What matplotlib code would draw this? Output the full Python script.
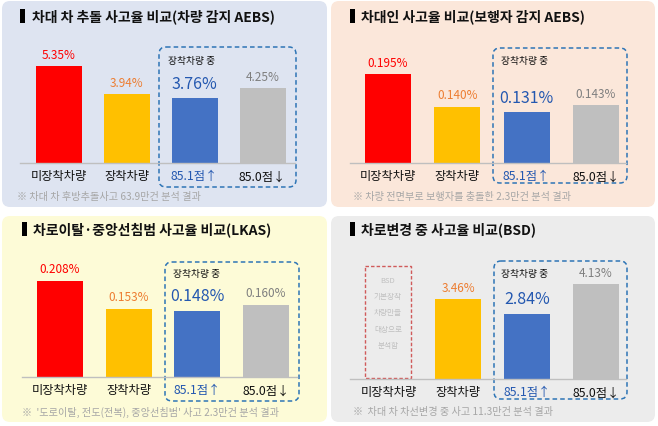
import numpy as np
import matplotlib
matplotlib.use("Agg")
import matplotlib.pyplot as plt
from matplotlib.patches import FancyBboxPatch, Rectangle

plt.rcParams['font.family'] = ['Noto Sans CJK KR', 'DejaVu Sans']

# 데이터
categories = ['미장착차량', '장착차량', '85.1점↑', '85.0점↓']
titles = ['차대 차 추돌 사고율 비교(차량 감지 AEBS)',
          '차대인 사고율 비교(보행자 감지 AEBS)',
          '차로이탈·중앙선침범 사고율 비교(LKAS)',
          '차로변경 중 사고율 비교(BSD)']
notes = ['※ 차대 차 후방추돌사고 63.9만건 분석 결과',
         '※ 차량 전면부로 보행자를 충돌한 2.3만건 분석 결과',
         '※  \'도로이탈, 전도(전복), 중앙선침범\' 사고 2.3만건 분석 결과',
         '※  차대 차 차선변경 중 사고 11.3만건 분석 결과']
aebs_car = [5.35, 3.94, 3.76, 4.25]
aebs_ped = [0.195, 0.140, 0.131, 0.143]
lkas = [0.208, 0.153, 0.148, 0.160]
bsd = [np.nan, 3.46, 2.84, 4.13]
bsd_memo = ['BSD', '기본장착', '차량만을', '대상으로', '분석함']

bar_colors = ['#ff0000', '#ffc000', '#4472c4', '#bfbfbf']
text_colors = ['#ff0000', '#ed7d31', '#2458b0', '#7f7f7f']
cat_colors = ['#111111', '#111111', '#2458b0', '#111111']

W, H = 658, 427
fig = plt.figure(figsize=(W / 100, H / 100), dpi=100)

# 배경용 (픽셀 좌표)
bg = fig.add_axes([0, 0, 1, 1])
bg.set_xlim(0, W)
bg.set_ylim(H, 0)
bg.axis('off')

# 패널 배치
panels = [
    dict(vals=aebs_car, fmt='{:.2f}%', rect=(2, 2, 327, 208), fill='#dee4f1',
         base_y=164, line=(20, 295), c0=58.5, sp=68, vmin=0.53, slope=20.1,
         box=(159, 48, 296, 188), sub=(168, 61), title=(20, 32, 17), note=(17, 197)),
    dict(vals=aebs_ped, fmt='{:.3f}%', rect=(331, 2, 655, 208), fill='#fbe7da',
         base_y=164, line=(350, 626), c0=388, sp=69.3, vmin=0.0455, slope=594,
         box=(493, 49, 627, 184), sub=(501, 61), title=(350, 361, 17), note=(353, 197)),
    dict(vals=lkas, fmt='{:.3f}%', rect=(2, 217, 327, 423), fill='#fdfbd7',
         base_y=378, line=(22, 297), c0=60, sp=68.7, vmin=0.016, slope=500,
         box=(165, 263, 299, 402), sub=(173, 274), title=(22, 33, 230), note=(22, 412)),
    dict(vals=bsd, fmt='{:.2f}%', rect=(331, 217, 655, 423), fill='#ececec',
         base_y=380, line=(350, 626), c0=389, sp=69, vmin=0.0, slope=23,
         box=(494, 262, 627, 400), sub=(501, 274), title=(350, 361, 230), note=(353, 412)),
]

AX_H = 134

for k, p in enumerate(panels):
    x0, y0, x1, y1 = p['rect']
    bg.add_patch(FancyBboxPatch((x0, y0), x1 - x0, y1 - y0,
                                boxstyle='round,pad=0,rounding_size=8',
                                fc=p['fill'], ec='none', zorder=0))
    # 제목
    mx, tx, ty = p['title']
    bg.add_patch(Rectangle((mx, ty - 7), 5, 14, fc='black', ec='none', zorder=2))
    bg.text(tx, ty, titles[k], fontsize=10, fontweight='bold', color='#111111',
            ha='left', va='center', zorder=3)
    # 주석
    bg.text(p['note'][0], p['note'][1], notes[k], fontsize=7.3, color='#a6a6a6',
            ha='left', va='center', zorder=3)
    # 점선 박스
    bx0, by0, bx1, by1 = p['box']
    bg.add_patch(FancyBboxPatch((bx0, by0), bx1 - bx0, by1 - by0,
                                boxstyle='round,pad=0,rounding_size=7',
                                fc='none', ec='#2e75b6', lw=1.1,
                                ls=(0, (3, 2)), zorder=4))
    bg.text(p['sub'][0], p['sub'][1], '장착차량 중', fontsize=7, color='#111111',
            ha='left', va='center', zorder=4)

    # 막대 영역
    lx0, lx1 = p['line']
    ax = fig.add_axes([lx0 / W, 1 - p['base_y'] / H, (lx1 - lx0) / W, AX_H / H])
    ax.set_facecolor('none')
    ax.set_zorder(5)
    ax.set_xlim((lx0 - p['c0']) / p['sp'], (lx1 - p['c0']) / p['sp'])
    ax.set_ylim(p['vmin'], p['vmin'] + AX_H / p['slope'])
    for s in ['top', 'left', 'right']:
        ax.spines[s].set_visible(False)
    ax.spines['bottom'].set_color('#bfbfbf')
    ax.spines['bottom'].set_linewidth(1)
    ax.set_xticks([])
    ax.set_yticks([])

    vals = np.array(p['vals'], dtype=float)
    bw = 46 / p['sp']
    for i, v in enumerate(vals):
        if np.isnan(v):
            continue
        ax.bar(i, v, width=bw, color=bar_colors[i], zorder=2)
        big = (i == 2)
        ax.annotate(p['fmt'].format(v), xy=(i, v), xytext=(0, 15 if big else 12),
                    textcoords='offset pixels', ha='center', va='center',
                    fontsize=11.5 if big else 8.5, color=text_colors[i],
                    annotation_clip=False)
    for i, c in enumerate(categories):
        ax.annotate(c, xy=(i, p['vmin']), xytext=(0, -13), textcoords='offset pixels',
                    ha='center', va='center', fontsize=8.8, color=cat_colors[i],
                    annotation_clip=False)

    # BSD 미장착 자리 표시
    if np.isnan(vals[0]):
        bg.add_patch(Rectangle((365, 267), 46, 112, fc='none', ec='#d05a5a',
                               lw=1, ls=(0, (2.5, 1.5)), zorder=4))
        for j, t in enumerate(bsd_memo):
            bg.text(388, 281 + 16.2 * j, t, fontsize=5.5, color='#c0c0c0',
                    ha='center', va='center', zorder=4)

fig.savefig('out.png', dpi=100)
